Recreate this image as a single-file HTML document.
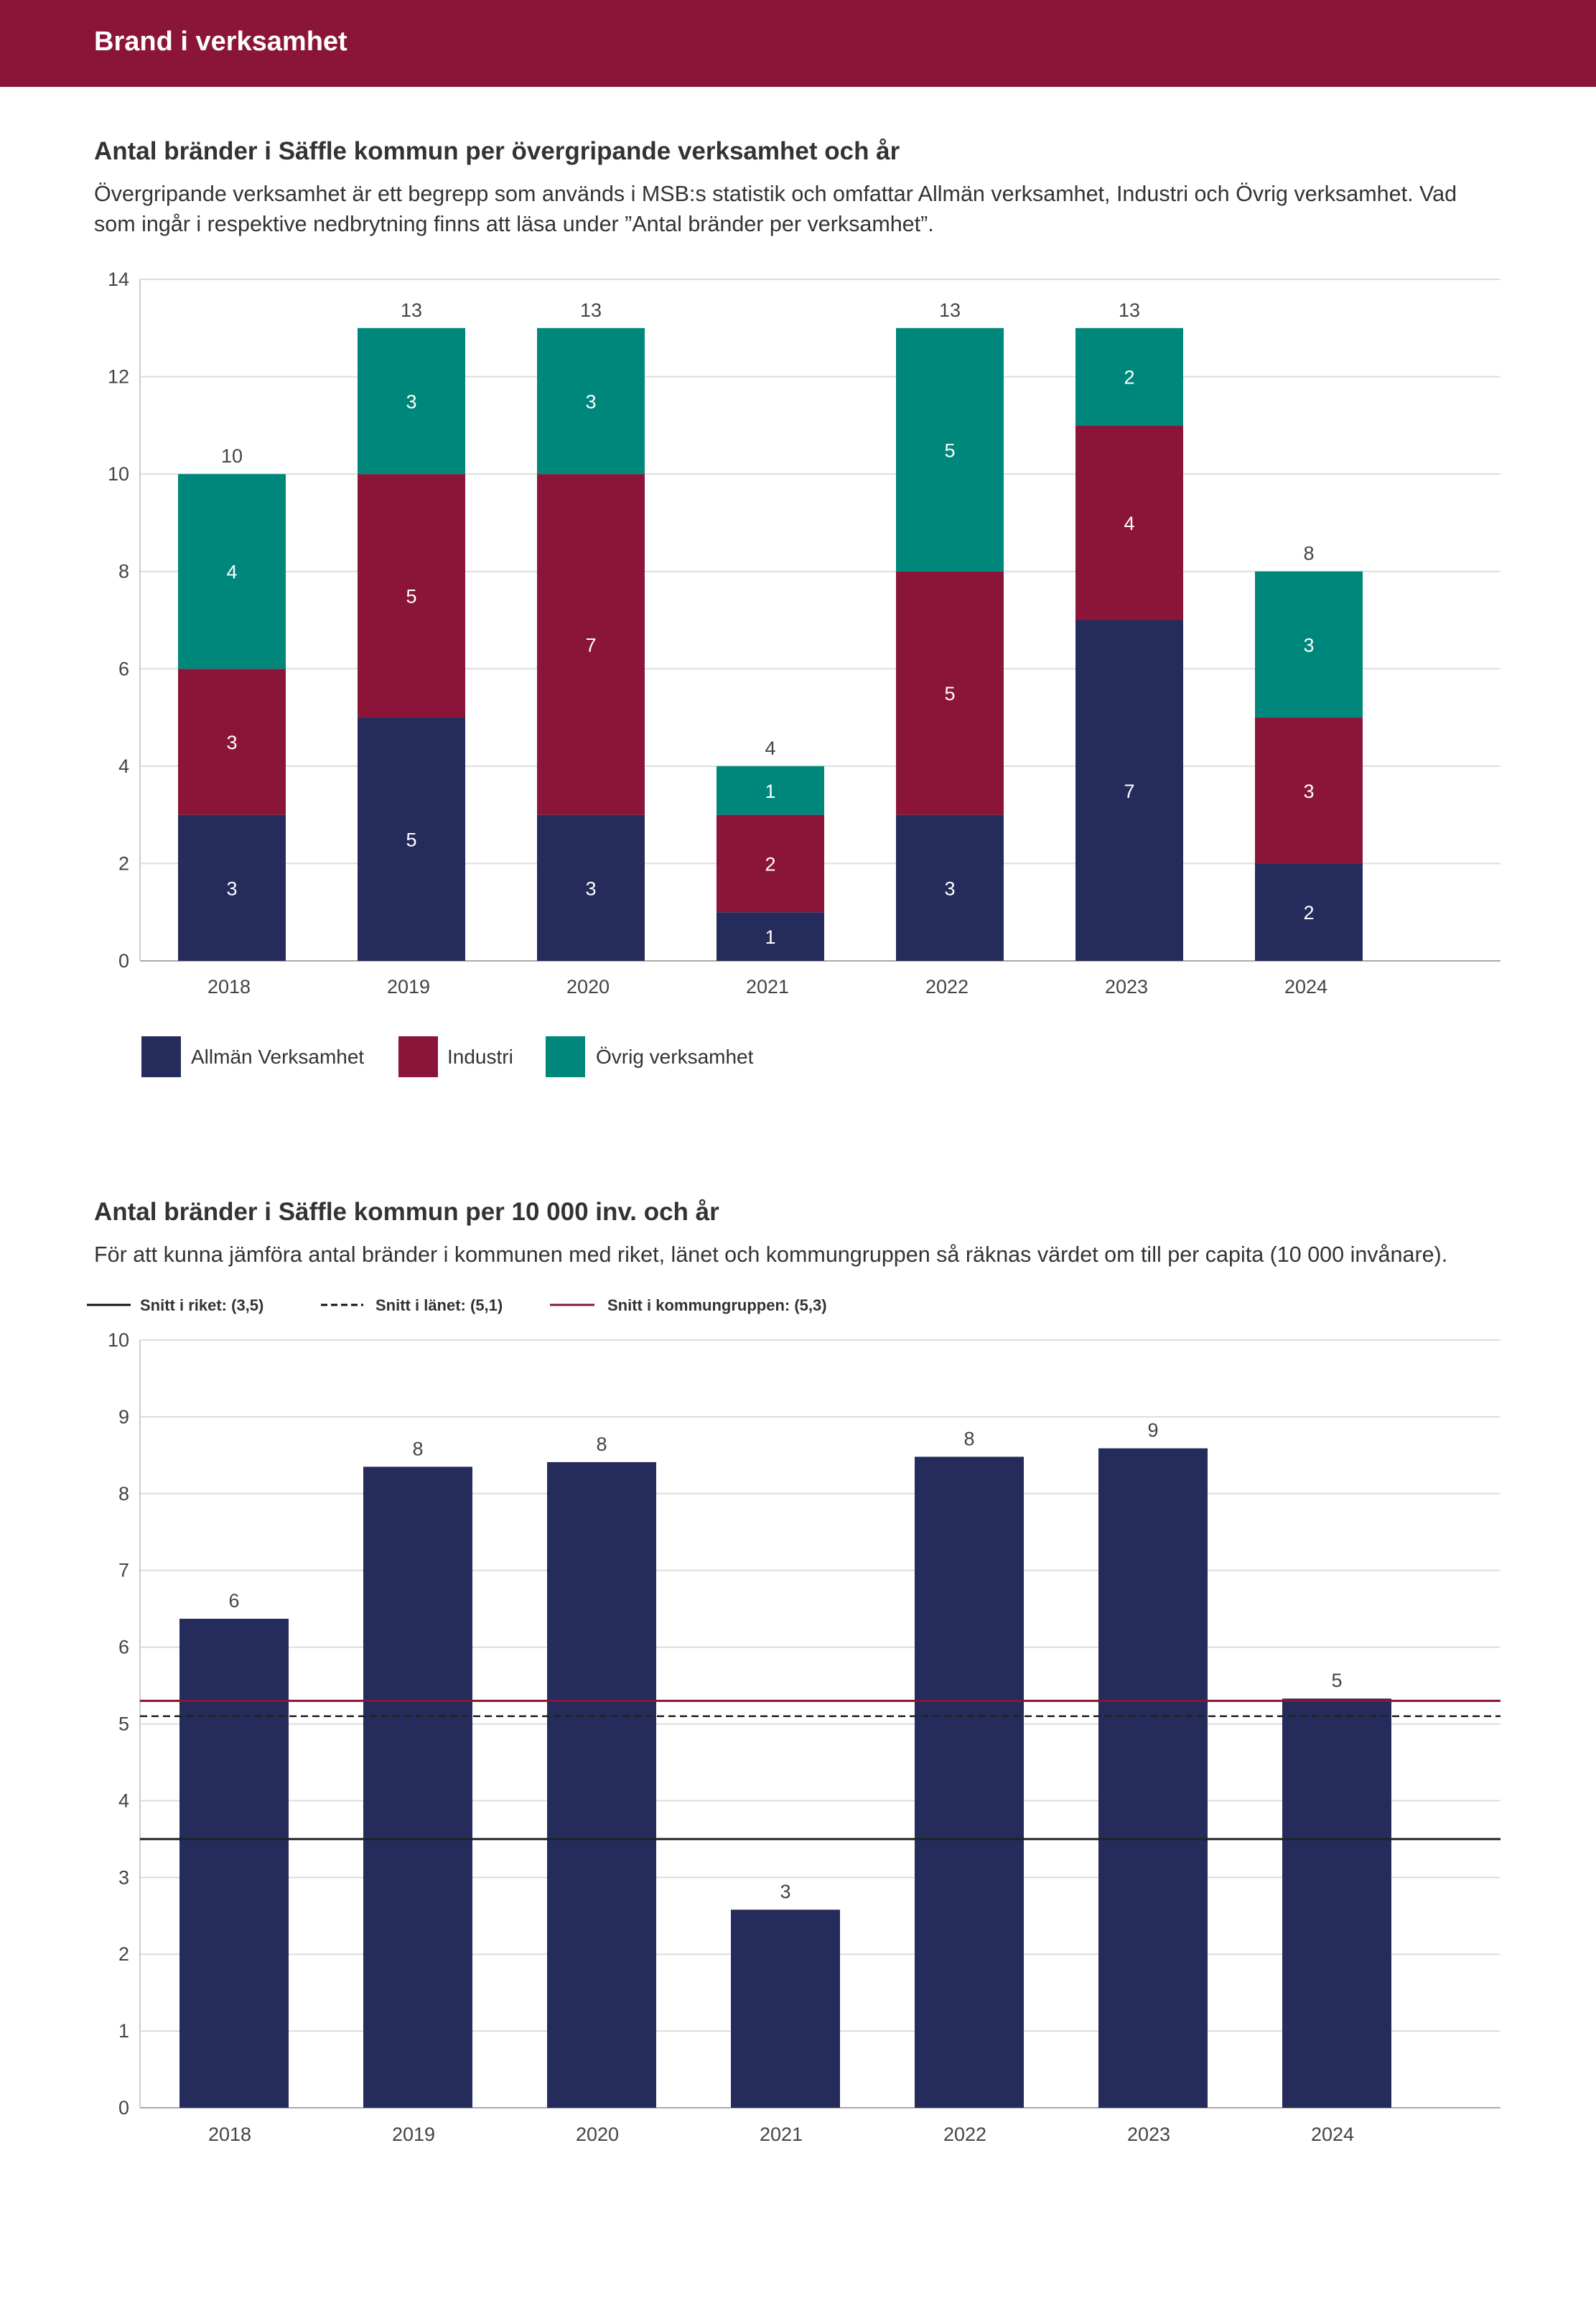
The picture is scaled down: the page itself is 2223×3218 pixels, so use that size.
<!DOCTYPE html>
<html><head><meta charset="utf-8"><style>
body{margin:0;width:2223px;height:3213px;background:#fff;overflow:hidden;font-family:"Liberation Sans",sans-serif;}
svg text{font-family:"Liberation Sans",sans-serif;}
</style></head><body>
<svg id="s" width="2223" height="3213" xmlns="http://www.w3.org/2000/svg">
<rect x="0" y="0" width="2223" height="121" fill="#8b1538"/>
<text x="131" y="70" font-size="38" font-weight="bold" fill="#fff">Brand i verksamhet</text>
<text x="131" y="222" font-size="35" font-weight="bold" fill="#333">Antal bränder i Säffle kommun per övergripande verksamhet och år</text>
<text x="131" y="280" font-size="30.5" fill="#333">Övergripande verksamhet är ett begrepp som används i MSB:s statistik och omfattar Allmän verksamhet, Industri och Övrig verksamhet. Vad</text>
<text x="131" y="322" font-size="30.5" fill="#333">som ingår i respektive nedbrytning finns att läsa under ”Antal bränder per verksamhet”.</text>
<g id="c1"></g>
<rect x="197" y="1443" width="55" height="57" fill="#252c5b"/>
<text x="266" y="1481" font-size="28" fill="#333">Allmän Verksamhet</text>
<rect x="555" y="1443" width="55" height="57" fill="#8b1538"/>
<text x="623" y="1481" font-size="28" fill="#333">Industri</text>
<rect x="760" y="1443" width="55" height="57" fill="#00877b"/>
<text x="830" y="1481" font-size="28" fill="#333">Övrig verksamhet</text>

<text x="131" y="1699" font-size="35" font-weight="bold" fill="#333">Antal bränder i Säffle kommun per 10 000 inv. och år</text>
<text x="131" y="1757" font-size="30.5" fill="#333">För att kunna jämföra antal bränder i kommunen med riket, länet och kommungruppen så räknas värdet om till per capita (10 000 invånare).</text>
<line x1="121" y1="1817" x2="182" y2="1817" stroke="#111" stroke-width="3"/>
<text x="195" y="1825" font-size="22" font-weight="bold" fill="#333">Snitt i riket: (3,5)</text>
<line x1="447" y1="1817" x2="506" y2="1817" stroke="#111" stroke-width="3" stroke-dasharray="9,5"/>
<text x="523" y="1825" font-size="22" font-weight="bold" fill="#333">Snitt i länet: (5,1)</text>
<line x1="766" y1="1817" x2="828" y2="1817" stroke="#8b1538" stroke-width="3"/>
<text x="846" y="1825" font-size="22" font-weight="bold" fill="#333">Snitt i kommungruppen: (5,3)</text>
<g id="c2"></g>
</svg>
<script>
const years=["2018","2019","2020","2021","2022","2023","2024"];
const allman=[3,5,3,1,3,7,2];
const industri=[3,5,7,2,5,4,3];
const ovrig=[4,3,3,1,5,2,3];
const ticks1=[0,2,4,6,8,10,12,14];
const perCapita=[6.37,8.35,8.41,2.58,8.48,8.59,5.33];
const perCapitaLabels=["6","8","8","3","8","9","5"];
const ticks2=[0,1,2,3,4,5,6,7,8,9,10];
const refRiket=3.5, refLanet=5.1, refKommungrupp=5.3;

const NS="http://www.w3.org/2000/svg";
function mk(p,tag,a,txt){const e=document.createElementNS(NS,tag);for(const k in a)e.setAttribute(k,a[k]);if(txt!==undefined)e.textContent=txt;p.appendChild(e);return e;}

// chart 1
const c1=document.getElementById('c1');
const L=195,R=2090;
const y1=v=>1338-v*(1338-389)/14;
const x1=i=>323+i*250;
const bw1=150;
ticks1.forEach(t=>{
  const g=mk(c1,'line',{x1:L,x2:R,y1:y1(t),y2:y1(t),stroke:t===0?'#aaa':'#ddd','stroke-width':2});
  
  
  const tx=mk(c1,'text',{x:180,y:y1(t)+9,'font-size':27,fill:'#444','text-anchor':'end'},String(t));
  
  
});
const ax1=mk(c1,'line',{x1:L,x2:L,y1:389,y2:1338,stroke:'#ccc','stroke-width':2});


const series=[[allman,'#252c5b','allman'],[industri,'#8b1538','industri'],[ovrig,'#00877b','ovrig']];
years.forEach((yr,i)=>{
  let base=0;
  series.forEach(([arr,col,nm])=>{
    const v=arr[i];
    const r=mk(c1,'rect',{x:x1(i)-bw1/2,y:y1(base+v),width:bw1,height:y1(base)-y1(base+v),fill:col});
    
    
    const t=mk(c1,'text',{x:x1(i),y:y1(base+v/2)+10,'font-size':27,fill:'#fff','text-anchor':'middle'},String(v));
    
    
    base+=v;
  });
  const tot=mk(c1,'text',{x:x1(i),y:y1(base)-16,'font-size':27,fill:'#444','text-anchor':'middle'},String(base));
  
  
  const xl=mk(c1,'text',{x:x1(i)-4,y:1383,'font-size':27,fill:'#444','text-anchor':'middle'},yr);
  
  
});

// chart 2
const c2=document.getElementById('c2');
const y2=v=>2935-v*(2935-1866)/10;
const x2=i=>326+i*256;
const bw2=152;
ticks2.forEach(t=>{
  const g=mk(c2,'line',{x1:L,x2:R,y1:y2(t),y2:y2(t),stroke:t===0?'#aaa':'#ddd','stroke-width':2});
  
  
  const tx=mk(c2,'text',{x:180,y:y2(t)+9,'font-size':27,fill:'#444','text-anchor':'end'},String(t));
  
  
});
const ax2=mk(c2,'line',{x1:L,x2:L,y1:1866,y2:2935,stroke:'#ccc','stroke-width':2});


years.forEach((yr,i)=>{
  const v=perCapita[i];
  const r=mk(c2,'rect',{x:x2(i)-bw2/2,y:y2(v),width:bw2,height:y2(0)-y2(v),fill:'#252c5b'});
  
  
  const t=mk(c2,'text',{x:x2(i),y:y2(v)-16,'font-size':27,fill:'#444','text-anchor':'middle'},perCapitaLabels[i]);
  
  
  const xl=mk(c2,'text',{x:x2(i)-6,y:2981,'font-size':27,fill:'#444','text-anchor':'middle'},yr);
  
  
});
const lr=mk(c2,'line',{x1:L,x2:R,y1:y2(refRiket),y2:y2(refRiket),stroke:'#222','stroke-width':3});


const ll=mk(c2,'line',{x1:L,x2:R,y1:y2(refLanet),y2:y2(refLanet),stroke:'#222','stroke-width':2.5,'stroke-dasharray':'10,6'});


const lk=mk(c2,'line',{x1:L,x2:R,y1:y2(refKommungrupp),y2:y2(refKommungrupp),stroke:'#8b1538','stroke-width':3});


</script>
</body></html>
